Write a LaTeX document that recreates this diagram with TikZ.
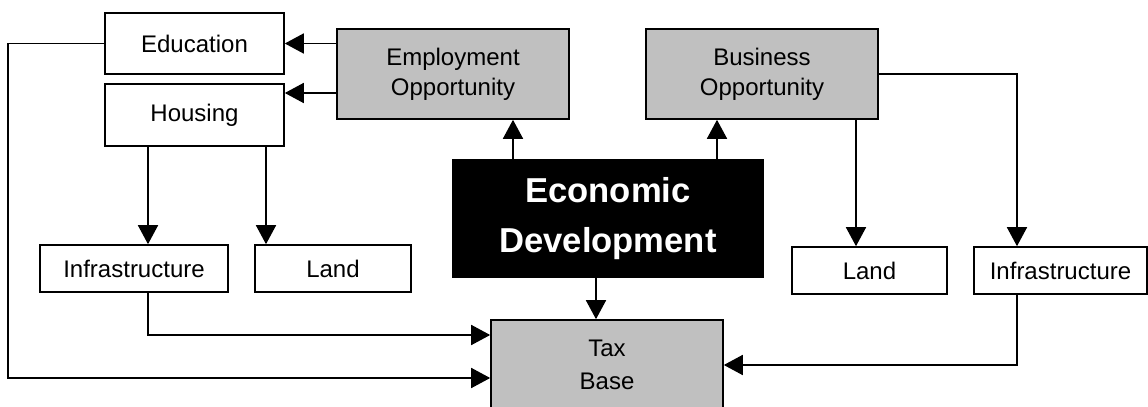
\documentclass[tikz,border=0pt]{standalone}
\usepackage{fontspec}
\setmainfont{Liberation Sans}
\usetikzlibrary{arrows.meta}
\begin{document}
\begin{tikzpicture}[x=0.5pt,y=-0.5pt,
  box/.style={draw=black,line width=0.8pt,rectangle,inner sep=0pt,align=center,
    font=\fontsize{12}{15}\selectfont},
  graybox/.style={box,fill=boxgray,minimum width=116pt,minimum height=45pt},
  smallbox/.style={box,fill=white,minimum height=23.5pt},
  arr/.style={line width=0.8pt,-{Triangle[length=9.5pt,width=10pt]}},
  conn/.style={line width=0.8pt}]
\definecolor{boxgray}{HTML}{C0C0C0}
\useasboundingbox (0,0) rectangle (1148,407);
\clip (0,0) rectangle (1148,407);

% boxes
\node[box,minimum width=89.5pt,minimum height=30.5pt] (edu) at (194.5,43.5) {Education};
\node[box,minimum width=89.5pt,minimum height=31pt] (hou) at (194.5,115) {Housing};
\node[graybox] (emp) at (453,74) {Employment\\Opportunity};
\node[graybox] (bus) at (762,74) {Business\\Opportunity};
\node[box,fill=black,text=white,minimum width=155pt,minimum height=58.5pt,
  font=\fontsize{17.3}{25}\selectfont\bfseries] (eco) at (608,218.5) {Economic\\Development};
\node[graybox,font=\fontsize{12}{16.5}\selectfont] (tax) at (607,365) {Tax\\Base};
\node[smallbox,minimum width=94pt] (infL) at (134,268.5) {Infrastructure};
\node[smallbox,minimum width=78pt] (landL) at (333,268.5) {Land};
\node[smallbox,minimum width=77.5pt] (landR) at (869.5,270.5) {Land};
\node[smallbox,minimum width=86.5pt] (infR) at (1060.5,270.5) {Infrastructure};

% lanes and rows used by the connectors
\coordinate (laneA) at (148,0);
\coordinate (laneB) at (266,0);
\coordinate (laneC) at (513,0);
\coordinate (laneD) at (717,0);
\coordinate (laneE) at (596,0);
\coordinate (laneF) at (856,0);
\coordinate (laneG) at (1017,0);
\coordinate (laneH) at (8,0);
\coordinate (rowA) at (0,93);
\coordinate (rowB) at (0,335);
\coordinate (rowC) at (0,378);

% connectors
\draw[arr] (emp.west |- edu.east) -- (edu.east);
\draw[arr] (emp.west |- rowA) -- (hou.east |- rowA);
\draw[arr] (eco.north -| laneC) -- (emp.south -| laneC);
\draw[arr] (eco.north -| laneD) -- (bus.south -| laneD);
\draw[arr] (eco.south -| laneE) -- (tax.north -| laneE);
\draw[arr] (hou.south -| laneA) -- (infL.north -| laneA);
\draw[arr] (hou.south -| laneB) -- (landL.north -| laneB);
\draw[arr] (bus.south -| laneF) -- (landR.north -| laneF);
\draw[arr] (bus.east) -| (infR.north -| laneG);
\draw[arr] (infL.south -| laneA) |- (tax.west |- rowB);
\draw[arr] (edu.west) -| (laneH |- rowC) -- (tax.west |- rowC);
\draw[arr] (infR.south -| laneG) |- (tax.east);
\end{tikzpicture}
\end{document}
